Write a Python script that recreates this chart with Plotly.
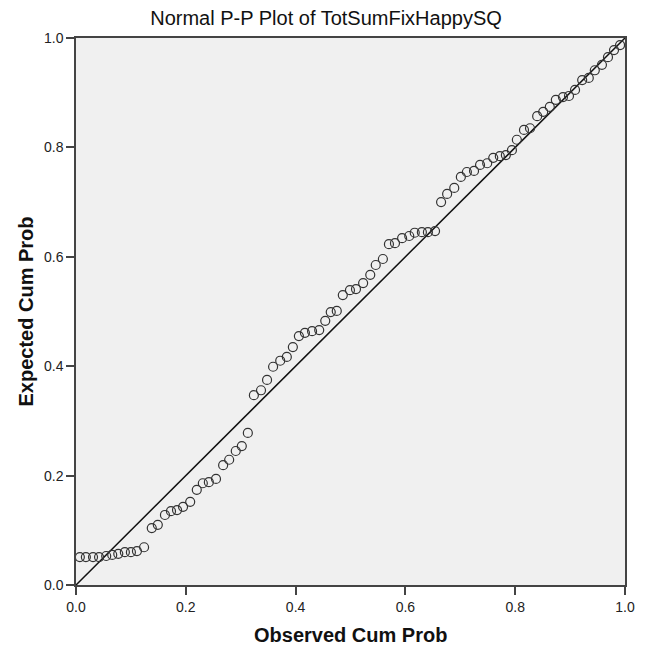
import plotly.graph_objects as go

observed = [0.007, 0.018, 0.031, 0.042, 0.055, 0.066, 0.077, 0.089, 0.100, 0.111,
            0.124, 0.138, 0.149, 0.162, 0.173, 0.184, 0.195, 0.208, 0.220, 0.231,
            0.242, 0.255, 0.268, 0.279, 0.291, 0.302, 0.313, 0.324, 0.337, 0.348,
            0.359, 0.372, 0.384, 0.395, 0.406, 0.417, 0.430, 0.443, 0.454, 0.464,
            0.475, 0.486, 0.499, 0.510, 0.523, 0.536, 0.546, 0.559, 0.570, 0.581,
            0.594, 0.607, 0.617, 0.630, 0.641, 0.654, 0.665, 0.676, 0.689, 0.701,
            0.712, 0.725, 0.736, 0.749, 0.760, 0.772, 0.783, 0.794, 0.803, 0.816,
            0.827, 0.840, 0.851, 0.863, 0.874, 0.887, 0.898, 0.909, 0.922, 0.934,
            0.945, 0.958, 0.969, 0.980, 0.991]
expected = [0.051, 0.051, 0.051, 0.051, 0.053, 0.055, 0.057, 0.060, 0.060, 0.062,
            0.069, 0.104, 0.110, 0.128, 0.135, 0.137, 0.143, 0.152, 0.174, 0.186,
            0.188, 0.194, 0.219, 0.229, 0.245, 0.254, 0.278, 0.347, 0.356, 0.375,
            0.399, 0.410, 0.417, 0.435, 0.455, 0.461, 0.464, 0.466, 0.483, 0.499,
            0.501, 0.530, 0.539, 0.541, 0.552, 0.567, 0.585, 0.596, 0.623, 0.625,
            0.634, 0.638, 0.644, 0.645, 0.645, 0.647, 0.700, 0.715, 0.726, 0.746,
            0.755, 0.757, 0.768, 0.771, 0.781, 0.784, 0.786, 0.795, 0.814, 0.832,
            0.835, 0.857, 0.865, 0.874, 0.887, 0.892, 0.894, 0.905, 0.923, 0.927,
            0.941, 0.951, 0.965, 0.978, 0.987]
ref_line = [0.0, 1.0]
tick_vals = [0.0, 0.2, 0.4, 0.6, 0.8, 1.0]
tick_text = ["0.0", "0.2", "0.4", "0.6", "0.8", "1.0"]

fig = go.Figure()
fig.add_trace(go.Scatter(x=ref_line, y=ref_line, mode="lines",
                         line=dict(color="#111111", width=1.5), hoverinfo="skip",
                         showlegend=False))
fig.add_trace(go.Scatter(x=observed, y=expected, mode="markers",
                         marker=dict(symbol="circle-open", size=9,
                                     color="#333333", line=dict(width=1.2)),
                         showlegend=False))

font_family = "Liberation Sans, Arial, sans-serif"
axis_common = dict(range=[0, 1], tickvals=tick_vals, ticktext=tick_text,
                   showgrid=False, zeroline=False, showline=True, mirror=True,
                   linecolor="#444444", linewidth=1.5, ticks="outside", ticklen=8,
                   tickwidth=1.5, automargin=False,
                   tickcolor="#444444", tickfont=dict(family=font_family, size=14, color="#222222"))

fig.update_layout(
    width=652, height=649,
    margin=dict(l=68, r=35, t=30, b=72),
    paper_bgcolor="white", plot_bgcolor="#f0f0f0",
    title=dict(text="Normal P-P Plot of TotSumFixHappySQ", x=318 / 652, xref="container",
               y=1 - 10 / 649, yref="container", yanchor="middle", xanchor="center",
               font=dict(family=font_family, size=20, color="#111111")),
    xaxis=dict(**axis_common),
    yaxis=dict(**axis_common),
    annotations=[
        dict(text="<b>Observed Cum Prob</b>", xref="paper", yref="paper", x=0.5, y=0,
             xanchor="center", yanchor="middle", yshift=-50, showarrow=False,
             font=dict(family=font_family, size=20, color="#111111")),
        dict(text="<b>Expected Cum Prob</b>", xref="paper", yref="paper", x=0, y=0.5,
             xanchor="center", yanchor="middle", xshift=-51, textangle=-90, showarrow=False,
             font=dict(family=font_family, size=20, color="#111111")),
    ],
)

fig.write_html("out.html")
